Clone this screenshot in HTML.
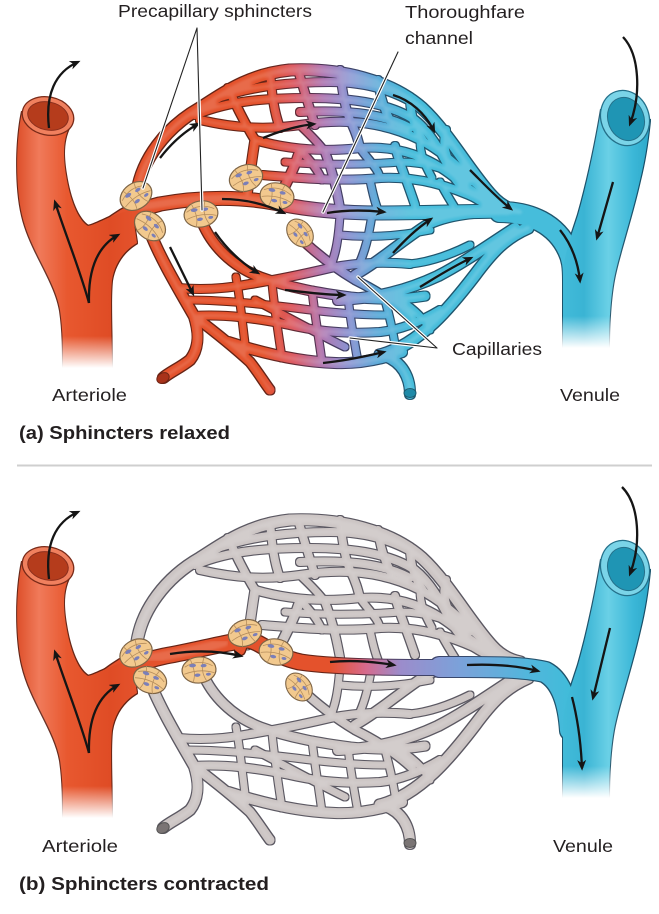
<!DOCTYPE html>
<html><head><meta charset="utf-8">
<style>html,body{margin:0;padding:0;background:#fff}svg{display:block}</style>
</head><body>
<svg width="659" height="914" viewBox="0 0 659 914" xmlns="http://www.w3.org/2000/svg">
<defs>
 <linearGradient id="gA" gradientUnits="userSpaceOnUse" x1="0" y1="0" x2="659" y2="0">
  <stop offset="0" stop-color="#e4522c"/><stop offset="0.40" stop-color="#e4522c"/>
  <stop offset="0.445" stop-color="#dc5a62"/><stop offset="0.49" stop-color="#b078b2"/>
  <stop offset="0.53" stop-color="#8a94d2"/><stop offset="0.575" stop-color="#5cacd9"/>
  <stop offset="0.625" stop-color="#47bddb"/><stop offset="1" stop-color="#47bddb"/>
 </linearGradient>
 <linearGradient id="gB" gradientUnits="userSpaceOnUse" x1="0" y1="0" x2="659" y2="0">
  <stop offset="0" stop-color="#e4522c"/><stop offset="0.5" stop-color="#e4522c"/>
  <stop offset="0.555" stop-color="#d66a8c"/><stop offset="0.607" stop-color="#9c8ccb"/>
  <stop offset="0.70" stop-color="#7aa2da"/><stop offset="0.80" stop-color="#52b6dc"/>
  <stop offset="0.87" stop-color="#3fbcd9"/><stop offset="1" stop-color="#3fbcd9"/>
 </linearGradient>
 <linearGradient id="artFill" gradientUnits="userSpaceOnUse" x1="12" y1="0" x2="135" y2="0">
  <stop offset="0" stop-color="#d9461f"/><stop offset="0.22" stop-color="#f07a5a"/>
  <stop offset="0.45" stop-color="#e8582f"/><stop offset="0.8" stop-color="#df4c25"/><stop offset="1" stop-color="#e4522c"/>
 </linearGradient>
 <linearGradient id="venFill" gradientUnits="userSpaceOnUse" x1="555" y1="0" x2="652" y2="0">
  <stop offset="0" stop-color="#45bddb"/><stop offset="0.3" stop-color="#3ab4d4"/>
  <stop offset="0.55" stop-color="#6ad0e6"/><stop offset="0.8" stop-color="#3cb8d8"/><stop offset="1" stop-color="#2aa6c8"/>
 </linearGradient>
 <linearGradient id="fadeV" x1="0" y1="0" x2="0" y2="1">
  <stop offset="0" stop-color="#fff" stop-opacity="0"/><stop offset="0.8" stop-color="#fff" stop-opacity="1"/><stop offset="1" stop-color="#fff" stop-opacity="1"/>
 </linearGradient>
 <filter id="ol" x="-3%" y="-3%" width="106%" height="106%" color-interpolation-filters="sRGB">
  <feMorphology in="SourceGraphic" operator="dilate" radius="1.2" result="d"/>
  <feComponentTransfer in="d" result="dk"><feFuncR type="linear" slope="0.45"/><feFuncG type="linear" slope="0.45"/><feFuncB type="linear" slope="0.5"/></feComponentTransfer>
  <feMerge><feMergeNode in="dk"/><feMergeNode in="SourceGraphic"/></feMerge>
 </filter>
 <filter id="hl" x="-3%" y="-3%" width="106%" height="106%" color-interpolation-filters="sRGB">
  <feMorphology in="SourceGraphic" operator="erode" radius="2.5" result="e"/>
  <feComponentTransfer in="e" result="lt"><feFuncR type="linear" slope="0.5" intercept="0.5"/><feFuncG type="linear" slope="0.5" intercept="0.5"/><feFuncB type="linear" slope="0.5" intercept="0.5"/><feFuncA type="linear" slope="0.3"/></feComponentTransfer>
  <feGaussianBlur in="lt" stdDeviation="1.2"/>
 </filter>
 <marker id="ah" viewBox="0 0 12 10" refX="9" refY="5" markerWidth="11" markerHeight="9" markerUnits="userSpaceOnUse" orient="auto">
  <path d="M0,0 L12,5 L0,10 L3.5,5 Z" fill="#151515"/>
 </marker>

 <g id="net" fill="none" stroke-linecap="round" stroke-linejoin="round">
  <path stroke-width="11" d="M137,192 C142,160 165,128 200,108 C225,92 250,74 290,70 C340,68 390,80 422,108 C448,132 470,172 492,196 C500,205 510,210 520,212"/>
  <path stroke-width="8" d="M212,100 C250,86 290,82 330,82 C370,82 400,92 428,112"/>
  <path stroke-width="8" d="M195,115 C230,100 270,98 310,98 C355,98 390,104 415,120 C430,132 440,150 450,170 C460,190 480,205 505,210"/>
  <path stroke-width="8" d="M200,120 C235,128 265,130 300,125 C345,118 385,122 420,140 C450,155 470,180 495,200"/>
  <path stroke-width="8" d="M300,112 C340,110 380,112 410,128"/>
  <path stroke-width="8" d="M255,140 C290,150 325,152 360,148 C400,145 430,158 455,178 C470,190 490,205 510,210"/>
  <path stroke-width="8" d="M262,175 C300,178 340,182 380,178 C420,176 455,188 480,200"/>
  <path stroke-width="7" d="M285,162 C320,165 360,165 400,162 C430,162 455,172 470,182"/>
  <path stroke-width="8" d="M228,88 C236,105 244,122 255,140"/>
  <path stroke-width="8" d="M270,72 C272,95 274,112 280,128"/>
  <path stroke-width="8" d="M298,70 C304,90 310,110 315,125"/>
  <path stroke-width="8" d="M340,70 C342,90 345,108 350,120 C356,132 358,140 360,148"/>
  <path stroke-width="8" d="M378,80 C380,96 385,112 392,124"/>
  <path stroke-width="8" d="M410,97 C410,112 414,128 424,142"/>
  <path stroke-width="8" d="M446,130 C442,145 445,158 456,172"/>
  <path stroke-width="9" d="M247,195 C250,175 252,158 255,140"/>
  <path stroke-width="9" d="M278,200 C285,185 295,168 300,150"/>
  <path stroke-width="7" d="M300,150 C310,160 318,170 322,180"/>
  <path stroke-width="8" d="M325,152 C330,165 335,180 340,208"/>
  <path stroke-width="7" d="M360,148 C368,160 378,168 380,178"/>
  <path stroke-width="7" d="M370,180 C372,190 374,200 378,210"/>
  <path stroke-width="8" d="M395,146 C398,160 405,175 415,205"/>
  <path stroke-width="7" d="M300,125 C310,135 318,142 325,152"/>
  <path stroke-width="7" d="M420,140 C420,155 425,165 432,178"/>
  <path stroke-width="7" d="M440,182 C445,192 450,200 455,208"/>
  <path stroke-width="10" d="M150,232 C160,258 178,288 194,316 C200,335 198,350 190,360 C180,368 170,372 163,378"/>
  <path stroke-width="9" d="M194,316 C215,332 235,348 250,362 C258,372 264,382 270,390"/>
  <path stroke-width="9" d="M202,222 C212,246 232,266 260,277 C290,288 320,293 350,297 C380,300 400,300 425,296"/>
  <path stroke-width="8" d="M194,316 C225,314 255,318 290,325 C320,332 350,334 380,332 C400,330 420,322 440,310"/>
  <path stroke-width="7" d="M187,300 C220,300 262,304 295,308 C325,312 355,315 385,315"/>
  <path stroke-width="10" d="M228,342 C265,354 300,362 335,363 C362,364 385,358 402,352"/>
  <path stroke-width="8" d="M300,238 C318,255 335,268 355,280 C375,290 395,302 412,318"/>
  <path stroke-width="8" d="M178,288 C200,290 225,289 250,284 C275,280 300,275 330,268 C360,262 385,262 410,264"/>
  <path stroke-width="7" d="M236,277 C240,298 242,320 246,352"/>
  <path stroke-width="7" d="M272,283 C274,303 277,326 282,358"/>
  <path stroke-width="7" d="M312,290 C314,310 318,332 322,362"/>
  <path stroke-width="7" d="M348,297 C350,318 354,340 358,362"/>
  <path stroke-width="7" d="M385,300 C390,318 394,335 396,352"/>
  <path stroke-width="7" d="M255,300 C282,314 310,330 345,347"/>
  <path stroke-width="7" d="M330,268 C335,255 338,245 340,215"/>
  <path stroke-width="7" d="M360,262 C365,250 368,240 372,215"/>
  <path stroke-width="9" d="M355,275 C378,262 398,244 425,226 C448,214 478,212 510,212"/>
  <path stroke-width="10" d="M338,300 C378,298 408,290 438,276 C465,262 490,244 515,228"/>
  <path stroke-width="11" d="M380,355 C420,345 452,305 475,275 C492,252 505,238 528,228"/>
  <path stroke-width="10" d="M385,356 C402,362 410,377 410,394"/>
  <path stroke-width="7" d="M410,264 C430,262 450,255 470,245"/>
  <path stroke-width="7" d="M340,235 C370,238 400,236 430,230"/>
  <path stroke-width="7" d="M400,300 C415,310 425,320 430,330"/>
 </g>

 <g id="sph">
  <ellipse rx="17" ry="13" fill="#f2c98e" stroke="#7d6446" stroke-width="1.2"/>
  <path d="M-14,-4 C-5,-9 5,-9 14,-3 M-15,3 C-5,0 5,0 15,4 M-8,-12 C-4,0 -4,5 -7,12 M6,-12 C2,-2 3,5 7,12" stroke="#b58d5c" stroke-width="0.8" fill="none"/>
  <ellipse cx="-6" cy="-5" rx="3.4" ry="1.8" fill="#7b7fb8"/>
  <ellipse cx="5" cy="-4" rx="3" ry="1.7" fill="#7b7fb8"/>
  <ellipse cx="-2" cy="5" rx="3" ry="1.7" fill="#7b7fb8"/>
  <ellipse cx="9" cy="5" rx="2.5" ry="1.5" fill="#7b7fb8"/>
 </g>

 <path id="artShape" d="M22,112 C16,140 15,185 22,215 C30,250 55,280 60,310 C63,330 63,350 63,370 L112,370 C112,340 110,300 112,280 C115,262 125,250 137,243 L132,210 C112,214 98,224 88,226 C78,220 70,200 66,175 C62,150 64,135 72,122 Z" fill="url(#artFill)"/>
 <path id="venShape" d="M601,110 C596,140 588,180 578,215 C570,240 563,258 563,275 L563,350 L609,350 C609,320 611,290 616,270 C622,245 632,215 640,180 C645,160 648,140 650,120 Z" fill="url(#venFill)"/>

 <g id="artTop">
  <rect x="48" y="336" width="80" height="40" fill="url(#fadeV)"/>
  <ellipse cx="48" cy="116" rx="26" ry="19" transform="rotate(12 48 116)" fill="#f0805e" stroke="#7a2a18" stroke-width="1.3"/>
  <ellipse cx="48" cy="116" rx="20.5" ry="14" transform="rotate(12 48 116)" fill="#b53c1c" stroke="#8a2e1c" stroke-width="1"/>
 </g>
 <g id="venTop">
  <rect x="550" y="316" width="72" height="40" fill="url(#fadeV)"/>
  <ellipse cx="625" cy="118" rx="24" ry="28" transform="rotate(-20 625 118)" fill="#7ad4e8" stroke="#24708a" stroke-width="1.3"/>
  <ellipse cx="626" cy="119" rx="18" ry="22" transform="rotate(-20 626 119)" fill="#1f95b4" stroke="#24708a" stroke-width="1"/>
 </g>
</defs>

<!-- ================= PANEL A ================= -->
<g filter="url(#ol)" fill="none" stroke-linecap="round" stroke-linejoin="round">
 <use href="#net" stroke="url(#gA)"/>
 <path d="M100,238 C118,222 135,210 160,204 C200,197 240,196 280,204 C310,210 340,213 380,213 C430,213 480,211 510,211" stroke="url(#gA)" stroke-width="13"/>
 <path d="M95,240 C110,228 122,218 140,210" stroke="#e4522c" stroke-width="18"/>
 <path d="M500,212 C530,212 556,224 568,250 C572,258 573,266 573,280" stroke="#46bddb" stroke-width="20"/>
 <use href="#artShape"/>
 <use href="#venShape"/>
</g>
<g filter="url(#hl)" fill="none" stroke-linecap="round" stroke-linejoin="round">
 <use href="#net" stroke="url(#gA)"/>
 <path d="M140,207 C200,197 240,196 280,204 C310,210 340,213 380,213 C430,213 480,211 510,211" stroke="url(#gA)" stroke-width="13"/>
</g>
<ellipse cx="163" cy="378" rx="6.5" ry="5" transform="rotate(-30 163 378)" fill="#a8321a" stroke="#6e2414" stroke-width="1"/>
<ellipse cx="410" cy="393" rx="6" ry="4.5" fill="#1f8aa8" stroke="#1d5c70" stroke-width="1"/>
<use href="#artTop"/>
<use href="#venTop"/>

<use href="#sph" transform="translate(136,196) rotate(-35)"/>
<use href="#sph" transform="translate(150,226) rotate(40)"/>
<use href="#sph" transform="translate(201,214) rotate(-10)"/>
<use href="#sph" transform="translate(246,178) rotate(-20)"/>
<use href="#sph" transform="translate(277,196) rotate(10)"/>
<use href="#sph" transform="translate(300,233) rotate(50) scale(0.9)"/>

<g fill="none" stroke="#151515" stroke-width="2.3" marker-end="url(#ah)">
 <path d="M49,128 C45,95 55,72 78,62"/>
 <path d="M89,303 C80,270 66,236 55,202"/>
 <path d="M89,303 C88,268 98,246 118,235"/>
 <path d="M160,158 C170,145 182,133 198,124"/>
 <path d="M263,138 C280,131 296,126 314,124"/>
 <path d="M222,199 C245,199 265,204 284,213"/>
 <path d="M327,213 C345,210 365,210 384,212"/>
 <path d="M170,247 L193,294"/>
 <path d="M215,232 C226,248 240,262 258,273"/>
 <path d="M285,290 C305,292 325,295 344,295"/>
 <path d="M323,363 C343,361 363,357 384,352"/>
 <path d="M393,95 C410,100 425,113 434,131"/>
 <path d="M470,170 C485,185 497,198 511,209"/>
 <path d="M393,253 C405,240 416,229 431,219"/>
 <path d="M420,287 C435,278 450,268 471,258"/>
 <path d="M623,37 C640,55 641,95 630,124"/>
 <path d="M613,182 L597,238"/>
 <path d="M560,230 C572,245 578,262 580,281"/>
</g>

<g fill="none" stroke-linecap="round">
 <path d="M197,28 L143,188 M197,28 L202,210 M398,52 L323,212 M437,348 L358,277 M437,348 L350,338" stroke="#fff" stroke-width="3.4"/>
 <path d="M197,28 L143,188 M197,28 L202,210 M398,52 L323,212 M437,348 L358,277 M437,348 L350,338" stroke="#222" stroke-width="1.1"/>
</g>

<g font-family="'Liberation Sans', sans-serif" fill="#231f20">
 <text x="118" y="17" font-size="17.5" textLength="194" lengthAdjust="spacingAndGlyphs">Precapillary sphincters</text>
 <text x="405" y="18" font-size="17.5" textLength="120" lengthAdjust="spacingAndGlyphs">Thoroughfare</text>
 <text x="405" y="44" font-size="17.5" textLength="68" lengthAdjust="spacingAndGlyphs">channel</text>
 <text x="452" y="355" font-size="17.5" textLength="90" lengthAdjust="spacingAndGlyphs">Capillaries</text>
 <text x="52" y="401" font-size="17.5" textLength="75" lengthAdjust="spacingAndGlyphs">Arteriole</text>
 <text x="560" y="401" font-size="17.5" textLength="60" lengthAdjust="spacingAndGlyphs">Venule</text>
 <text x="19" y="439" font-size="18" font-weight="bold" textLength="211" lengthAdjust="spacingAndGlyphs">(a) Sphincters relaxed</text>
</g>

<line x1="17" y1="465.5" x2="652" y2="465.5" stroke="#cfcfcf" stroke-width="2"/>

<!-- ================= PANEL B ================= -->
<g transform="translate(0,450)">
 <g filter="url(#ol)">
  <use href="#net" stroke="#ccc5c4"/>
 </g>
 <g filter="url(#hl)">
  <use href="#net" stroke="#ccc5c4"/>
 </g>
 <ellipse cx="163" cy="378" rx="6.5" ry="5" transform="rotate(-30 163 378)" fill="#7a7474" stroke="#555" stroke-width="1"/>
 <ellipse cx="410" cy="393" rx="6" ry="4.5" fill="#7a7474" stroke="#555" stroke-width="1"/>
 <g filter="url(#ol)" fill="none" stroke-linecap="round" stroke-linejoin="round">
  <path d="M100,240 C118,224 135,212 165,206 C200,200 225,192 248,190 C262,192 272,206 300,212 C340,218 420,218 480,217" stroke="url(#gB)" stroke-width="15"/>
  <path d="M240,200 L245,186" stroke="#e4522c" stroke-width="10"/>
  <path d="M95,240 C110,228 122,218 140,210" stroke="#e4522c" stroke-width="20"/>
  <path d="M440,217 C480,217 520,216 545,222 C560,230 568,250 570,280" stroke="url(#gB)" stroke-width="20"/>
  <use href="#artShape"/>
  <use href="#venShape"/>
 </g>
 <g filter="url(#hl)" fill="none" stroke-linecap="round">
  <path d="M140,210 C165,206 200,200 225,192 248,190 C262,192 272,206 300,212 C340,218 420,218 480,217" stroke="url(#gB)" stroke-width="15"/>
 </g>
 <use href="#artTop"/>
 <use href="#venTop"/>
 <use href="#sph" transform="translate(136,203) rotate(-30)"/>
 <use href="#sph" transform="translate(150,230) rotate(20)"/>
 <use href="#sph" transform="translate(199,220) rotate(-5)"/>
 <use href="#sph" transform="translate(245,183) rotate(-20)"/>
 <use href="#sph" transform="translate(276,202) rotate(10)"/>
 <use href="#sph" transform="translate(299,237) rotate(50) scale(0.9)"/>
</g>

<g fill="none" stroke="#151515" stroke-width="2.3" marker-end="url(#ah)">
 <path d="M49,579 C45,545 55,522 78,512"/>
 <path d="M89,753 C80,720 66,686 55,652"/>
 <path d="M89,753 C88,718 98,696 118,685"/>
 <path d="M170,654 C195,650 220,651 241,656"/>
 <path d="M330,662 C350,660 370,661 394,665"/>
 <path d="M467,665 C490,664 515,665 538,671"/>
 <path d="M622,487 C640,505 641,545 630,574"/>
 <path d="M610,628 L593,698"/>
 <path d="M572,697 C578,720 581,745 582,768"/>
</g>

<g font-family="'Liberation Sans', sans-serif" fill="#231f20">
 <text x="42" y="852" font-size="17.5" textLength="76" lengthAdjust="spacingAndGlyphs">Arteriole</text>
 <text x="553" y="852" font-size="17.5" textLength="60" lengthAdjust="spacingAndGlyphs">Venule</text>
 <text x="19" y="890" font-size="18" font-weight="bold" textLength="250" lengthAdjust="spacingAndGlyphs">(b) Sphincters contracted</text>
</g>
</svg>
</body></html>
